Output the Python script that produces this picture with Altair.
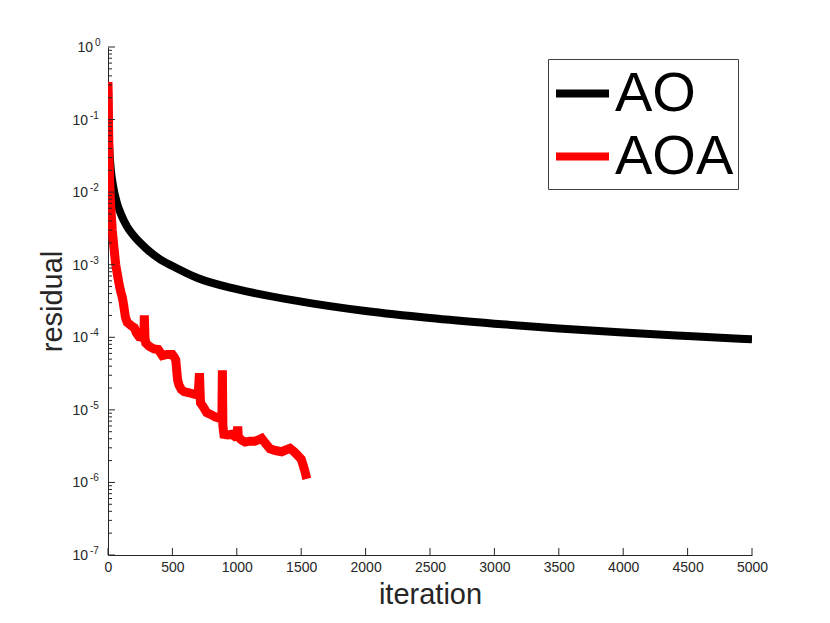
import altair as alt
import pandas as pd

# ---------------- data ----------------
AO_ITER = [1, 3, 6, 10, 20, 40, 70, 100, 150, 200, 300, 400, 500, 700, 1000,
           1500, 2000, 2500, 3000, 3500, 4000, 4500, 5000]
AO_RES = [0.25, 0.12, 0.06, 0.04, 0.022, 0.012, 7e-3, 5e-3, 3.3e-3, 2.5e-3,
          1.65e-3, 1.2e-3, 9.6e-4, 6.5e-4, 4.6e-4, 3.1e-4, 2.3e-4, 1.84e-4,
          1.54e-4, 1.32e-4, 1.16e-4, 1.04e-4, 9.4e-5]

AOA_ITER = [0, 4, 8, 14, 22, 33, 45, 60, 75, 90,
            100, 112, 124, 135, 150, 170, 190, 205, 220, 241,
            265, 278, 282, 287, 293, 320, 357, 390, 422, 460,
            499, 515, 526, 540, 551, 570, 590, 630, 668, 700,
            710, 718, 740, 766, 800, 831, 870, 884, 888, 892,
            900, 930, 960, 985, 1002, 1007, 1012, 1040, 1064, 1100,
            1140, 1167, 1193, 1220, 1258, 1300, 1348, 1380, 1413, 1450,
            1478, 1500, 1516, 1530, 1543]
AOA_RES = [0.33, 0.1, 0.03, 0.012, 6e-3, 3e-3, 1.8e-3, 1.0e-3, 7e-4, 5e-4,
           4.2e-4, 3.5e-4, 2.6e-4, 1.9e-4, 1.6e-4, 1.5e-4, 1.4e-4, 1.35e-4, 1.15e-4, 1.02e-4,
           1.0e-4, 9.5e-5, 2.0e-4, 1.0e-4, 8.3e-5, 7.5e-5, 6.9e-5, 6.8e-5, 5.6e-5, 5.8e-5,
           5.8e-5, 5.3e-5, 4.9e-5, 2.6e-5, 2.2e-5, 1.9e-5, 1.78e-5, 1.72e-5, 1.65e-5, 1.6e-5,
           3.2e-5, 1.25e-5, 1.1e-5, 9.2e-6, 8.6e-6, 8.0e-6, 7.6e-6, 7.3e-6, 3.5e-5, 6.0e-6,
           4.6e-6, 4.5e-6, 4.6e-6, 4.3e-6, 4.4e-6, 5.9e-6, 4.2e-6, 3.8e-6, 3.6e-6, 3.7e-6,
           3.7e-6, 3.85e-6, 4.05e-6, 3.5e-6, 2.9e-6, 2.75e-6, 2.65e-6, 2.8e-6, 2.95e-6, 2.6e-6,
           2.3e-6, 2.1e-6, 1.7e-6, 1.4e-6, 1.12e-6]

SERIES = ["AO", "AOA"]
COLORS = ["#000000", "#ff0000"]

X_TICKS = [0, 500, 1000, 1500, 2000, 2500, 3000, 3500, 4000, 4500, 5000]
Y_TICKS = [1e0, 1e-1, 1e-2, 1e-3, 1e-4, 1e-5, 1e-6, 1e-7]
Y_EXPONENTS = ["0", "-1", "-2", "-3", "-4", "-5", "-6", "-7"]
Y_MINOR = [m * 10.0 ** e for e in range(-7, 0) for m in range(2, 10)]

# ---------------- styling ----------------
FONT = "Liberation Sans"
AX = "#262626"
W, H = 644, 508

df = pd.DataFrame({
    "iteration": AO_ITER + AOA_ITER,
    "residual": AO_RES + AOA_RES,
    "method": ["AO"] * len(AO_ITER) + ["AOA"] * len(AOA_ITER),
})
ylab = pd.DataFrame({"residual": Y_TICKS, "exp": Y_EXPONENTS, "base": ["10"] * len(Y_TICKS)})

xscale = alt.Scale(domain=[0, 5000], nice=False, zero=False)
yscale = alt.Scale(type="log", domain=[1e-7, 1], nice=False)

xaxis = alt.Axis(values=X_TICKS, format="d", title="iteration", tickSize=0, grid=False,
                 labelFont=FONT, labelFontSize=14, labelColor=AX, labelPadding=5,
                 labelFlush=False, labelOverlap=False,
                 domainColor=AX, domainWidth=1,
                 titleFont=FONT, titleFontSize=29, titleFontWeight="normal",
                 titleColor=AX, titleBaseline="alphabetic", titleY=48)
yaxis = alt.Axis(values=Y_TICKS, title="residual", tickSize=0, grid=False, labels=False,
                 domainColor=AX, domainWidth=1,
                 titleFont=FONT, titleFontSize=29, titleFontWeight="normal",
                 titleColor=AX, titleBaseline="alphabetic", titleX=-47)

x_enc = alt.X("iteration:Q", scale=xscale, axis=xaxis)
y_enc = alt.Y("residual:Q", scale=yscale, axis=yaxis)

color_enc = alt.Color(
    "method:N",
    scale=alt.Scale(domain=SERIES, range=COLORS),
    legend=alt.Legend(
        title=None, orient="none", legendX=440, legendY=12,
        symbolType="stroke", symbolSize=2809, symbolStrokeWidth=8,
        labelFont=FONT, labelFontSize=56, labelColor="#000000",
        labelOffset=2, rowPadding=4, padding=4,
        strokeColor="#404040", fillColor="#ffffff",
    ),
)

base = alt.Chart(df)
ao_line = base.transform_filter(alt.datum.method == "AO").mark_line(
    strokeWidth=8, interpolate="monotone", clip=True
).encode(x=x_enc, y=y_enc, color=color_enc)
aoa_line = base.transform_filter(alt.datum.method == "AOA").mark_line(
    strokeWidth=9, clip=True
).encode(x=x_enc, y=y_enc, color=color_enc)

# inward tick marks
ymaj = alt.Chart(pd.DataFrame({"residual": Y_TICKS})).mark_rule(
    color=AX, strokeWidth=1
).encode(y=y_enc, x=alt.value(0), x2=alt.value(7))
ymin = alt.Chart(pd.DataFrame({"residual": Y_MINOR})).mark_rule(
    color=AX, strokeWidth=1
).encode(y=y_enc, x=alt.value(0), x2=alt.value(4))
xmaj = alt.Chart(pd.DataFrame({"iteration": X_TICKS})).mark_rule(
    color=AX, strokeWidth=1
).encode(x=x_enc, y=alt.value(H), y2=alt.value(H - 7))

# y tick labels "10" with raised exponent
lab = alt.Chart(ylab)
neg = lab.transform_filter(alt.datum.exp != "0")
zero = lab.transform_filter(alt.datum.exp == "0")
base_neg = neg.mark_text(align="right", baseline="middle", font=FONT, fontSize=14,
                         color=AX, dy=1).encode(y=y_enc, x=alt.value(-20), text="base:N")
exp_neg = neg.mark_text(align="left", baseline="middle", font=FONT, fontSize=10,
                        color=AX, dy=-4).encode(y=y_enc, x=alt.value(-18), text="exp:N")
base_zero = zero.mark_text(align="right", baseline="middle", font=FONT, fontSize=14,
                           color=AX, dy=1).encode(y=y_enc, x=alt.value(-15), text="base:N")
exp_zero = zero.mark_text(align="left", baseline="middle", font=FONT, fontSize=10,
                          color=AX, dy=-4).encode(y=y_enc, x=alt.value(-13), text="exp:N")

chart = alt.layer(ao_line, aoa_line, ymaj, ymin, xmaj,
                  base_neg, exp_neg, base_zero, exp_zero).properties(
    width=W, height=H,
    padding={"left": 100, "top": 39, "right": 70, "bottom": 60},
    autosize=alt.AutoSizeParams(type="none"),
    background="#ffffff",
).configure_view(strokeWidth=0)

chart.save("out.html", embed_options={"renderer": "svg", "actions": False})
